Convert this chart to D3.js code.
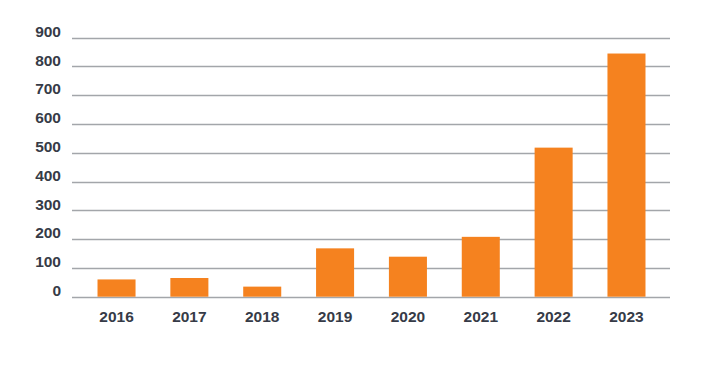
<!DOCTYPE html>
<html><head><meta charset="utf-8">
<script src="https://cdn.jsdelivr.net/npm/d3@7"></script>
<style>body{margin:0;background:#fff}svg{display:block}</style>
</head><body><svg id="c" width="703" height="369"></svg>
<script>
const categories = ["2016","2017","2018","2019","2020","2021","2022","2023"];
const values = [60, 65, 35, 168, 139, 208, 518, 845];
const yTicks = [0,100,200,300,400,500,600,700,800,900];

const svg = d3.select("#c");
const y = d3.scaleLinear().domain([0,900]).range([296.7, 37.7]);
const x = d3.scaleBand().domain(categories).range([80.1, 662.9]).paddingInner(0.478).paddingOuter(0.239);

const grid = svg.append("g");
grid.selectAll("line").data(yTicks).join("line")
  .attr("x1", 72).attr("x2", 670)
  .attr("y1", d => Math.round(y(d)) + 0.5).attr("y2", d => Math.round(y(d)) + 0.5)
  .attr("stroke", "#a3a6aa").attr("stroke-width", 1.4);

svg.append("g").selectAll("text").data(yTicks).join("text")
  .attr("x", 61).attr("y", d => y(d)).attr("dy", "-0.05em")
  .attr("text-anchor", "end")
  .attr("font-family", "Liberation Sans, Arial, sans-serif")
  .attr("font-weight", "bold").attr("font-size", 15.5)
  .attr("fill", "#363b47")
  .text(d => d);

svg.append("g").selectAll("rect").data(values).join("rect")
  .attr("x", (d,i) => x(categories[i]))
  .attr("width", x.bandwidth())
  .attr("y", d => y(d))
  .attr("height", d => y(0) - y(d))
  .attr("fill", "#f5821f");

svg.append("g").selectAll("text").data(categories).join("text")
  .attr("x", d => x(d) + x.bandwidth()/2).attr("y", 321.5)
  .attr("text-anchor", "middle")
  .attr("font-family", "Liberation Sans, Arial, sans-serif")
  .attr("font-weight", "bold").attr("font-size", 15.5)
  .attr("fill", "#363b47")
  .text(d => d);
</script></body></html>
